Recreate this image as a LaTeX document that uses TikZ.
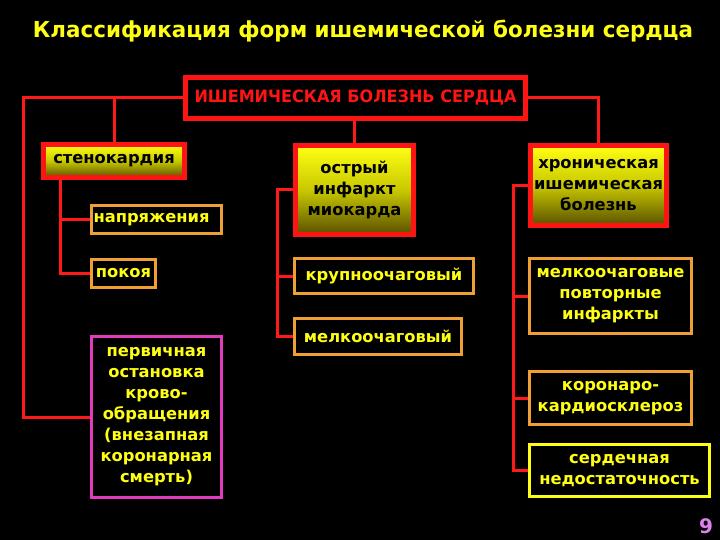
\documentclass[tikz,border=0pt]{standalone}
\usepackage{fontspec}
\setmainfont{DejaVu Sans}
\usetikzlibrary{positioning}
\definecolor{lnred}{RGB}{255,25,25}
\definecolor{bred}{RGB}{255,20,20}
\definecolor{orng}{RGB}{240,160,50}
\definecolor{pnk}{RGB}{225,60,190}
\definecolor{ylw}{RGB}{255,255,20}
\definecolor{olive}{RGB}{90,80,0}
\definecolor{lav}{RGB}{220,130,240}
\tikzset{
  conn/.style={draw=lnred, line width=3pt},
  redbox/.style={draw=bred, line width=5pt, inner sep=1pt, align=center,
     top color=ylw, bottom color=olive, middle color={rgb,255:red,200;green,200;blue,0},
     font=\bfseries\fontsize{16.3}{21}\selectfont, text=black},
  obox/.style={draw=orng, line width=3pt, fill=black, inner sep=1pt, align=center,
     font=\bfseries\fontsize{16.3}{21}\selectfont, text=ylw},
  pbox/.style={obox, draw=pnk},
  ybox/.style={obox, draw=ylw},
}
\begin{document}
\begin{tikzpicture}[x=1pt,y=-1pt]
\fill[black] (0,0) rectangle (720,540);
\useasboundingbox (0,0) rectangle (720,540);
\node[text=ylw, font=\bfseries\fontsize{22}{24}\selectfont] (title) at (363,31)
  {\resizebox{660pt}{\height}{Классификация форм ишемической болезни сердца}};
\node[draw=bred, line width=5pt, fill=black, text=bred, minimum width=340pt, minimum height=41pt,
  font=\bfseries\fontsize{17}{18}\selectfont] (top) at (355.5,98)
  {\resizebox{322pt}{\height}{ИШЕМИЧЕСКАЯ БОЛЕЗНЬ СЕРДЦА}};
\node[redbox, minimum width=141pt, minimum height=33pt] (sten) at (114,161) {стенокардия};
\node[obox, minimum width=130pt, minimum height=28pt, text width=126pt, align=left] (napr) at (156.5,219.5) {напряжения};
\node[obox, minimum width=64pt, minimum height=28pt] (pok) at (123.5,273.5) {покоя};
\node[pbox, minimum width=130pt, minimum height=161pt] (pink) at (156.5,417)
  {первичная\\остановка\\крово-\\обращения\\(внезапная\\коронарная\\смерть)};
\node[redbox, minimum width=118pt, minimum height=89pt] (ostr) at (354.5,190) {острый\\инфаркт\\миокарда};
\node[obox, minimum width=179pt, minimum height=35pt] (krup) at (384,276) {крупноочаговый};
\node[obox, minimum width=167pt, minimum height=36pt] (melk) at (378,336.5) {мелкоочаговый};
\node[redbox, minimum width=136pt, minimum height=80pt] (hron) at (598.5,185.5) {хроническая\\ишемическая\\болезнь};
\node[obox, minimum width=162pt, minimum height=75pt] (mp) at (610.5,296) {мелкоочаговые\\повторные\\инфаркты};
\node[obox, minimum width=162pt, minimum height=53pt] (kor) at (610.5,398) {коронаро-\\кардиосклероз};
\node[ybox, minimum width=180pt, minimum height=52pt] (serd) at (619.5,470.5) {сердечная\\недостаточность};
\node[text=lav, font=\bfseries\fontsize{20}{22}\selectfont] (num) at (706,526) {9};
% connectors
\draw[conn] (top.west) -- (23,98) -- (23,417) -- (pink.west);
\draw[conn] (sten.north) -- (sten.north |- top.west);
\draw[conn] (ostr.north) -- (ostr.north |- top.south);
\draw[conn] (top.east) -- (hron.north |- top.east) -- (hron.north);
\coordinate (s1) at (60,181);
\draw[conn] (sten.south -| s1) -- (s1 |- pok.west) -- (pok.west);
\draw[conn] (s1 |- napr.west) -- (napr.west);
\coordinate (o1) at (277,190);
\draw[conn] (ostr.west) -- (o1) -- (o1 |- melk.west) -- (melk.west);
\draw[conn] (o1 |- krup.west) -- (krup.west);
\coordinate (h1) at (513,187);
\draw[conn] (hron.west) -- (h1 |- hron.west) -- (h1 |- serd.west) -- (serd.west);
\draw[conn] (h1 |- mp.west) -- (mp.west);
\draw[conn] (h1 |- kor.west) -- (kor.west);
\end{tikzpicture}
\end{document}
